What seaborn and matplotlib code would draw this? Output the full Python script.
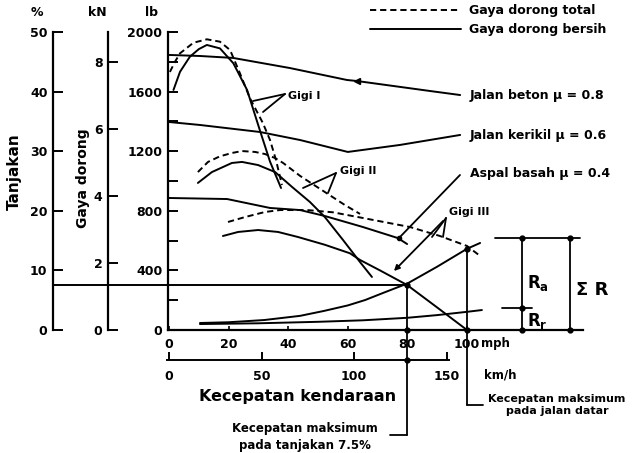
import matplotlib.pyplot as plt
import seaborn as sns
from matplotlib.lines import Line2D

# speeds in mph, thrust / resistance in lb
g1_total_mph = [0.3, 2.0, 3.7, 8.2, 12.7, 17.1, 20.5, 23.8, 27.2, 31.5, 33.9, 35.9, 37.9]
g1_total_lb = [1732, 1800, 1857, 1928, 1951, 1935, 1879, 1723, 1554, 1389, 1275, 1141, 973]
g1_net_mph = [1.5, 3.7, 7.0, 10.0, 12.7, 17.1, 21.6, 26.2, 30.5, 33.9, 37.6]
g1_net_lb = [1611, 1733, 1834, 1885, 1913, 1890, 1790, 1611, 1340, 1130, 953]

g2_total_mph = [9.7, 13.1, 17.0, 21.1, 24.5, 28.9, 32.2, 35.6, 38.3, 44.0, 52.3, 59.0, 64.1]
g2_total_lb = [1060, 1128, 1165, 1188, 1201, 1195, 1181, 1154, 1121, 1034, 926, 839, 779]
g2_net_mph = [9.7, 14.4, 21.1, 24.5, 29.9, 35.6, 41.3, 47.3, 52.3, 58.4, 64.1, 68.1]
g2_net_lb = [987, 1060, 1121, 1128, 1107, 1060, 960, 859, 758, 604, 456, 356]

g3_total_mph = [19.8, 25.5, 32.2, 37.2, 46.3, 55.0, 65.0, 80.9, 90.9, 100.0, 104.4]
g3_total_lb = [725, 758, 792, 805, 805, 790, 752, 691, 631, 564, 497]
g3_net_mph = [18.1, 23.2, 29.9, 36.6, 43.3, 52.3, 60.7, 64.1, 70.8, 79.9, 90.0, 100.0]
g3_net_lb = [631, 658, 671, 658, 624, 572, 515, 470, 400, 302, 151, 0]

# traction limits per road surface
beton_mph = [0, 10.4, 21.5, 40.6, 59.7, 63.1, 87.6, 97.7]
beton_lb = [1846, 1839, 1826, 1758, 1678, 1671, 1604, 1577]
kerikil_mph = [0, 10.4, 30.5, 44.0, 60.0, 77.5, 97.7]
kerikil_lb = [1396, 1376, 1329, 1275, 1195, 1242, 1309]
aspal_mph = [0, 19.5, 33.9, 44.0, 52.3, 65.1, 76.8, 79.9]
aspal_lb = [886, 879, 819, 805, 765, 691, 617, 577]

# resistances
sum_r_mph = [10.4, 20, 32, 44, 52, 60, 65.8, 72, 80, 90, 100, 104.4]
sum_r_lb = [47, 52, 67, 95, 128, 165, 201, 250, 312, 425, 545, 584]
roll_r_mph = [10.4, 30, 50, 65, 80, 90, 100, 105]
roll_r_lb = [40, 45, 55, 65, 82, 100, 122, 134]

grade_pct = 7.5          # tanjakan
grade_lb = 300           # same height on the lb scale
v_max_grade = 80         # mph
v_max_flat = 100         # mph
bracket_lb = [0, 148, 620]   # R_r top, sum R top

pct_ticks = [0, 10, 20, 30, 40, 50]
kn_ticks = [0, 2, 4, 6, 8]
lb_ticks = [0, 400, 800, 1200, 1600, 2000]
mph_ticks = [0, 20, 40, 60, 80, 100]
kmh_ticks = [0, 50, 100, 150]

W, H = 634, 453

sns.set_theme(style="white", rc={"axes.edgecolor": "black", "text.color": "black",
                                "xtick.color": "black", "ytick.color": "black",
                                "xtick.bottom": True, "ytick.left": True,
                                "lines.dashed_pattern": [3.2, 2.0]})
plt.rcParams['font.family'] = ['DejaVu Sans']
plt.rcParams['font.weight'] = 'bold'


def fx(px):
    return px / W


def fy(py):
    return 1 - py / H


def mph_at(px):
    return (px - 169) / 2.98


def lb_at(py):
    return (330 - py) / 0.149


fig = plt.figure(figsize=(6.34, 4.53), dpi=100)


def ftext(x, y, s, **kw):
    kw.setdefault('va', 'center')
    fig.text(fx(x), fy(y), s, **kw)


def fline(xs, ys, **kw):
    fig.add_artist(Line2D([fx(v) for v in xs], [fy(v) for v in ys],
                          color='black', lw=1.3, **kw))


ax = fig.add_axes([fx(168), fy(330), (583 - 168) / W, (330 - 32) / H])
ax.patch.set_alpha(0)

curves = [
    (g1_total_mph, g1_total_lb, '--'), (g1_net_mph, g1_net_lb, '-'),
    (g2_total_mph, g2_total_lb, '--'), (g2_net_mph, g2_net_lb, '-'),
    (g3_total_mph, g3_total_lb, '--'), (g3_net_mph, g3_net_lb, '-'),
    (beton_mph, beton_lb, '-'), (kerikil_mph, kerikil_lb, '-'), (aspal_mph, aspal_lb, '-'),
    (sum_r_mph, sum_r_lb, '-'), (roll_r_mph, roll_r_lb, '-'),
]
for xs, ys, ls in curves:
    sns.lineplot(x=xs, y=ys, ax=ax, color='black', lw=1.4, linestyle=ls,
                 sort=False, estimator=None)

ax.set_xlim(mph_at(168), mph_at(583))
ax.set_ylim(0, 2000)
ax.spines[['top', 'right']].set_visible(False)
for s in ['left', 'bottom']:
    ax.spines[s].set_linewidth(1.6)
ax.set_yticks(lb_ticks)
ax.set_yticks(range(200, 2000, 400), minor=True)
ax.tick_params(axis='y', which='both', left=True, direction='in', length=7, width=1.4,
               pad=4, labelsize=9)
ax.set_xticks(mph_ticks)
ax.tick_params(axis='x', bottom=True, direction='in', length=3, width=1.2, pad=6, labelsize=9)
ax.set_xlabel('')
ax.set_ylabel('')

# km/h scale under the mph axis
sec = ax.secondary_xaxis(-30 / 298, functions=(lambda m: m * 1.609344, lambda k: k / 1.609344))
sec.set_xticks(kmh_ticks)
sec.tick_params(bottom=True, direction='in', length=6, width=1.4, pad=7, labelsize=9)
sec.spines['bottom'].set_linewidth(1.4)
sec.spines['bottom'].set_bounds(-1, 151)

# left scales: % and kN
for xpx, top, ticks in [(53, 50, pct_ticks), (108, 2000 * 0.00444822, kn_ticks)]:
    a = fig.add_axes([fx(xpx), fy(330), 0.001, (330 - 32) / H])
    a.patch.set_visible(False)
    a.set_ylim(0, top)
    a.set_yticks(ticks)
    a.set_xticks([])
    a.spines[['top', 'right', 'bottom']].set_visible(False)
    a.spines['left'].set_linewidth(1.6)
    a.tick_params(axis='y', left=True, direction='in', length=7, width=1.4, pad=4, labelsize=9)

# grade line and max-speed leaders
ax.plot([mph_at(53), v_max_grade], [grade_lb, grade_lb], color='black', lw=1.4, clip_on=False)
ax.plot([v_max_grade, v_max_grade], [grade_lb, lb_at(435)], color='black', lw=1.3, clip_on=False)
ax.plot([mph_at(390), v_max_grade], [lb_at(435), lb_at(435)], color='black', lw=1.3, clip_on=False)
r_at_flat = sum_r_lb[sum_r_mph.index(v_max_flat)]
ax.plot([v_max_flat, v_max_flat], [r_at_flat, lb_at(405)], color='black', lw=1.3, clip_on=False)
ax.plot([v_max_flat, mph_at(483)], [lb_at(405), lb_at(405)], color='black', lw=1.3, clip_on=False)
ax.plot([v_max_grade, v_max_grade, v_max_flat, v_max_flat, v_max_grade],
        [grade_lb, 0, r_at_flat, 0, lb_at(360)], 'o', color='black', ms=3.5, clip_on=False)
ax.plot([beton_mph[5]], [beton_lb[5]], marker='<', color='black', ms=4)

# R bracket on the right
xb1, xb2 = mph_at(522), mph_at(570)
ax.plot([mph_at(495), mph_at(580)], [bracket_lb[2]] * 2, color='black', lw=1.3, clip_on=False)
ax.plot([xb1, xb1], [0, bracket_lb[2]], color='black', lw=1.3, clip_on=False)
ax.plot([xb2, xb2], [0, bracket_lb[2]], color='black', lw=1.3, clip_on=False)
ax.plot([mph_at(502), mph_at(532)], [bracket_lb[1]] * 2, color='black', lw=1.3, clip_on=False)
ax.plot([xb1, xb1, xb1, xb2, xb2], [0, bracket_lb[1], bracket_lb[2], 0, bracket_lb[2]],
        'o', color='black', ms=3.5, clip_on=False)
ftext(527, 283, r'R$_\mathbf{a}$', fontsize=12)
ftext(527, 321, r'R$_\mathbf{r}$', fontsize=12)
ftext(576, 290, 'Σ R', fontsize=13)

# gear pointers
fline([285, 253], [94, 101])
fline([285, 263], [94, 112])
fline([336, 303], [173, 188])
fline([336, 328], [173, 193])
fline([446, 432], [218, 237])
fline([446, 443], [218, 237])
ax.annotate('', xy=(mph_at(392), lb_at(273)), xytext=(mph_at(445), lb_at(219)),
            arrowprops=dict(arrowstyle='-|>', color='black', lw=1.3, mutation_scale=8))
fline([460, 399], [175, 238], marker='o', markevery=[1], ms=3)

ftext(288, 96, 'Gigi I', fontsize=8)
ftext(340, 171, 'Gigi II', fontsize=8)
ftext(449, 212, 'Gigi III', fontsize=8)
ftext(470, 96, 'Jalan beton μ = 0.8', fontsize=9)
ftext(470, 135, 'Jalan kerikil μ = 0.6', fontsize=9)
ftext(470, 173, 'Aspal basah μ = 0.4', fontsize=9)

# axis labels
ftext(37, 13, '%', fontsize=9, ha='center')
ftext(97, 13, 'kN', fontsize=9, ha='center')
ftext(152, 13, 'lb', fontsize=9, ha='center')
ftext(14, 172, 'Tanjakan', fontsize=11, rotation=90, ha='center')
ftext(83, 178, 'Gaya dorong', fontsize=10, rotation=90, ha='center')
ftext(481, 343, 'mph', fontsize=8.5)
ftext(484, 375, 'km/h', fontsize=8.5)
ftext(298, 396, 'Kecepatan kendaraan', fontsize=11.5, ha='center')
ftext(305, 437, 'Kecepatan maksimum\npada tanjakan 7.5%', fontsize=8.5, ha='center', linespacing=1.35)
ftext(557, 405, 'Kecepatan maksimum\npada jalan datar', fontsize=8, ha='center', linespacing=1.3)

handles = [Line2D([], [], color='black', lw=1.4, ls='--'), Line2D([], [], color='black', lw=1.4)]
fig.legend(handles, ['Gaya dorong total', 'Gaya dorong bersih'], loc='upper left',
           bbox_to_anchor=(fx(370), fy(4)), frameon=False, handlelength=7.3,
           handletextpad=0.6, labelspacing=0.5, borderpad=0, borderaxespad=0,
           prop={'weight': 'bold', 'size': 9})

fig.savefig('out.png', dpi=100)
